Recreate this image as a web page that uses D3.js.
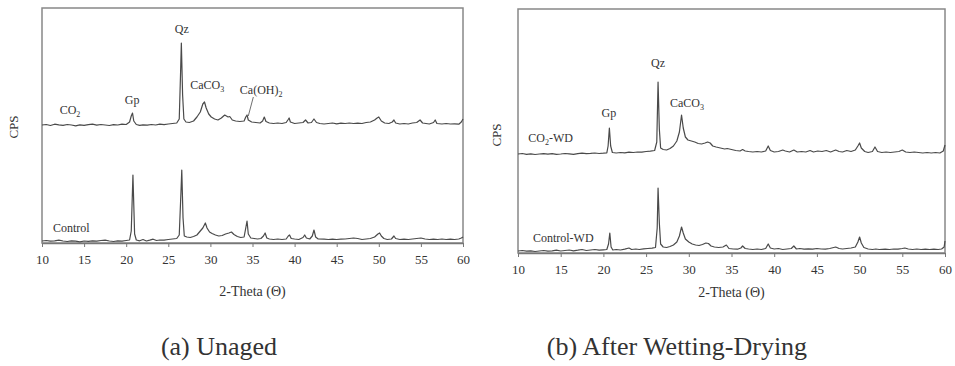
<!DOCTYPE html>
<html>
<head>
<meta charset="utf-8">
<script src="https://cdn.jsdelivr.net/npm/d3@7"></script>
<style>
  body { margin: 0; background: #fff; }
  svg { display: block; font-family: "Liberation Serif", "Times New Roman", Times, serif; }
</style>
</head>
<body>
<svg id="chart" width="955" height="366"></svg>
<script>
// tick labels (2-Theta)
const ticks2Theta = [10, 15, 20, 25, 30, 35, 40, 45, 50, 55, 60]

// (a) Unaged - Control [2theta, CPS]
const controlUnaged = [[10,20],[10.5,25],[11,18],[11.5,22],[12,28],[12.5,20],[13,15],[13.5,22],[14,18],[14.5,12],[15,20],[15.5,16],[16,22],[16.5,18],[17,25],[17.5,28],[18,20],[18.5,15],[19,22],[19.5,18],[20,25],[20.4,30],[20.6,120],[20.8,680],[21.0,90],[21.2,30],[21.6,22],[22,35],[22.4,20],[22.8,28],[23.2,38],[23.6,25],[24,30],[24.5,28],[25,35],[25.5,40],[26,45],[26.3,80],[26.5,500],[26.6,730],[26.75,250],[26.9,70],[27.2,60],[27.6,55],[28,65],[28.4,80],[28.8,120],[29.1,150],[29.4,200],[29.6,150],[29.9,110],[30.2,95],[30.6,80],[31,70],[31.4,75],[31.8,90],[32.2,100],[32.5,110],[32.8,85],[33.2,65],[33.6,55],[34,60],[34.2,150],[34.35,220],[34.5,90],[34.8,50],[35.2,45],[35.6,40],[36,45],[36.3,70],[36.5,100],[36.7,50],[37,40],[37.5,35],[38,40],[38.5,35],[39,40],[39.25,70],[39.4,80],[39.6,45],[40,40],[40.5,35],[41,55],[41.2,80],[41.4,50],[41.8,40],[42.1,70],[42.3,130],[42.5,60],[42.8,40],[43.5,38],[44,35],[44.5,38],[45,35],[45.5,38],[46,40],[46.5,45],[47,50],[47.5,45],[48,35],[48.5,40],[49,45],[49.5,60],[49.9,90],[50.1,100],[50.3,70],[50.6,45],[51,35],[51.5,40],[51.8,70],[52,45],[52.5,35],[53,38],[53.5,35],[54,40],[54.5,45],[55,50],[55.5,40],[56,35],[56.5,38],[57,35],[57.5,40],[58,35],[58.5,38],[59,35],[59.5,40],[59.8,50],[60,60]]

// (a) Unaged - CO2 (counts above its own baseline)
const co2Unaged = [[10,0],[10.5,5],[11,-5],[11.5,8],[12,2],[12.5,-3],[13,5],[13.5,0],[14,-8],[14.5,2],[15,-4],[15.5,3],[16,8],[16.5,-2],[17,5],[17.5,0],[18,-5],[18.5,3],[19,0],[19.5,8],[20,5],[20.4,30],[20.6,90],[20.75,120],[20.9,40],[21.2,5],[21.6,-3],[22,2],[22.5,-2],[23,5],[23.5,0],[24,8],[24.5,3],[25,10],[25.5,15],[26,20],[26.3,60],[26.45,500],[26.55,820],[26.7,300],[26.85,60],[27.1,30],[27.5,25],[28,40],[28.4,80],[28.8,130],[29.1,210],[29.3,230],[29.5,170],[29.8,110],[30.1,80],[30.5,60],[30.9,50],[31.3,70],[31.7,100],[31.9,90],[32.1,80],[32.3,85],[32.6,50],[33,40],[33.5,35],[34,40],[34.2,80],[34.35,100],[34.5,50],[34.9,30],[35.4,25],[35.9,20],[36.2,40],[36.4,80],[36.6,35],[37,20],[37.5,15],[38,20],[38.5,15],[39,25],[39.2,50],[39.35,70],[39.5,30],[40,15],[40.5,20],[41,25],[41.3,50],[41.6,20],[42,25],[42.3,60],[42.6,25],[43,15],[43.5,10],[44,15],[44.5,20],[45,12],[45.5,18],[46,15],[46.5,20],[47,15],[47.5,18],[48,15],[48.5,25],[49,30],[49.5,50],[49.8,70],[50,80],[50.3,40],[50.7,20],[51.2,15],[51.6,30],[51.8,50],[52,20],[52.5,10],[53,15],[53.5,10],[54,20],[54.5,25],[54.9,50],[55.2,20],[55.6,15],[56,10],[56.5,25],[56.7,50],[56.9,15],[57.5,10],[58,15],[58.5,10],[59,12],[59.5,8],[59.8,30],[60,60]]
const co2UnagedOffset = 1180

// (b) After Wetting-Drying - Control-WD
const controlWD = [[10,20],[10.5,25],[11,18],[11.5,22],[12,15],[12.5,20],[13,25],[13.5,18],[14,22],[14.5,28],[15,20],[15.5,25],[16,30],[16.5,22],[17,28],[17.5,35],[18,25],[18.5,30],[19,35],[19.5,28],[20,32],[20.4,35],[20.6,90],[20.75,200],[20.9,60],[21.1,30],[21.5,35],[22,30],[22.5,38],[23,50],[23.3,35],[23.8,40],[24.2,35],[24.7,42],[25.2,45],[25.7,48],[26.1,55],[26.3,250],[26.4,650],[26.55,300],[26.7,90],[27,60],[27.4,55],[27.8,65],[28.2,80],[28.6,110],[28.9,170],[29.15,260],[29.35,200],[29.6,140],[30,110],[30.4,90],[30.8,80],[31.2,75],[31.6,85],[32,100],[32.3,95],[32.6,70],[33,60],[33.5,55],[34,60],[34.4,80],[34.7,45],[35.2,40],[35.7,38],[36.1,50],[36.3,70],[36.6,45],[37,40],[37.5,35],[38,40],[38.5,35],[39,45],[39.3,90],[39.55,50],[40,40],[40.5,45],[41,35],[41.5,40],[42,45],[42.3,70],[42.6,40],[43,45],[43.5,38],[44,42],[44.5,38],[45,45],[45.5,40],[46,38],[46.5,45],[47.2,60],[47.6,45],[48,40],[48.5,45],[49,50],[49.5,60],[49.8,110],[50,160],[50.2,100],[50.5,55],[51,40],[51.5,35],[51.9,40],[52.3,35],[53,38],[53.5,35],[54,40],[54.5,38],[55,45],[55.3,50],[55.7,40],[56.2,35],[56.7,40],[57.2,35],[57.7,38],[58.2,35],[58.7,38],[59.2,35],[59.6,40],[59.9,60],[60,120]]

// (b) After Wetting-Drying - CO2-WD (counts above its own baseline)
const co2WD = [[10,0],[10.5,5],[11,-3],[11.5,2],[12,-5],[12.5,0],[13,4],[13.5,-2],[14,3],[14.5,-4],[15,0],[15.5,5],[16,2],[16.5,-3],[17,4],[17.5,8],[18,3],[18.5,6],[19,10],[19.5,5],[20,8],[20.4,12],[20.55,80],[20.7,260],[20.85,80],[21.05,15],[21.5,10],[22,15],[22.5,12],[23,18],[23.5,15],[24,20],[24.5,18],[25,25],[25.5,28],[26,35],[26.25,120],[26.4,720],[26.55,250],[26.7,60],[27,45],[27.4,40],[27.8,55],[28.2,80],[28.6,130],[28.9,220],[29.15,390],[29.35,260],[29.6,170],[29.9,140],[30.3,130],[30.7,120],[31.1,105],[31.5,100],[31.9,110],[32.2,120],[32.5,110],[32.8,80],[33.2,70],[33.7,60],[34.2,50],[34.5,55],[35,45],[35.5,35],[36,30],[36.3,45],[36.6,30],[37,25],[37.5,20],[38,25],[38.5,20],[39,30],[39.3,80],[39.55,35],[40,20],[40.5,25],[41,40],[41.3,30],[41.8,20],[42.3,40],[42.7,20],[43.2,25],[43.7,20],[44.2,35],[44.6,20],[45.1,30],[45.6,25],[46.1,35],[46.6,20],[47.2,40],[47.6,25],[48,20],[48.5,35],[49,25],[49.5,40],[49.8,80],[50,110],[50.2,60],[50.6,25],[51,15],[51.5,25],[51.8,70],[52.1,25],[52.6,15],[53.1,20],[53.6,15],[54.1,20],[54.6,25],[55,40],[55.4,20],[55.9,15],[56.4,20],[56.9,15],[57.4,10],[57.9,15],[58.4,10],[58.9,15],[59.4,10],[59.8,30],[60,90]]
const co2WDOffset = 990

// peak / series labels: [text, subscript, suffix, 2theta, CPS, anchor]
const labelsUnaged = [
  ['CO', '2', '', 12.1, 1290, 'start'],
  ['Gp', '', '', 20.7, 1390, 'middle'],
  ['Qz', '', '', 26.6, 2100, 'middle'],
  ['CaCO', '3', '', 27.6, 1540, 'start'],
  ['Ca(OH)', '2', '', 33.5, 1490, 'start'],
  ['Control', '', '', 11.3, 110, 'start']
]
const labelsWD = [
  ['CO', '2', '-WD', 11.2, 1110, 'start'],
  ['Gp', '', '', 20.65, 1360, 'middle'],
  ['Qz', '', '', 26.4, 1860, 'middle'],
  ['CaCO', '3', '', 27.8, 1460, 'start'],
  ['Control-WD', '', '', 11.75, 110, 'start']
]

const ink = '#333'
const lineCol = '#4a4a4a'
const serif = '"Liberation Serif", "Times New Roman", Times, serif'
const svg = d3.select('#chart')

function drawPanel(cfg) {
  const x = d3.scaleLinear().domain([10, 60]).range([cfg.left, cfg.right])
  const y = d3.scaleLinear().domain([0, cfg.yMax]).range([cfg.bottom, cfg.top])
  const g = svg.append('g')

  // frame
  g.append('rect')
    .attr('x', cfg.left).attr('y', cfg.top)
    .attr('width', cfg.right - cfg.left).attr('height', cfg.bottom - cfg.top)
    .attr('fill', 'none').attr('stroke', '#888').attr('stroke-width', 1.5)

  // traces
  const line = d3.line().x(d => x(d[0])).y(d => y(d[1]))
  cfg.series.forEach(s => {
    g.append('path')
      .datum(s.data.map(d => [d[0], d[1] + s.offset]))
      .attr('d', line)
      .attr('fill', 'none').attr('stroke', lineCol)
      .attr('stroke-width', 1.2).attr('stroke-linejoin', 'round')
  })

  // x axis
  const ax = g.append('g')
    .attr('transform', `translate(0,${cfg.bottom})`)
    .call(d3.axisBottom(x).tickValues(ticks2Theta).tickSizeInner(4).tickSizeOuter(0).tickPadding(8))
  ax.attr('font-family', null)
  ax.select('.domain').attr('stroke', '#777').attr('stroke-width', 1.5)
  ax.selectAll('.tick line').attr('stroke', '#777')
  ax.selectAll('.tick text').attr('fill', ink)
    .style('font-family', serif).style('font-size', '13px')

  g.append('text')
    .attr('x', (cfg.left + cfg.right) / 2).attr('y', cfg.titleY)
    .attr('text-anchor', 'middle').attr('fill', ink)
    .style('font-family', serif).style('font-size', '14px')
    .text('2-Theta (\u0398)')

  g.append('text')
    .attr('transform', `translate(${cfg.cpsX},${cfg.cpsY}) rotate(-90)`)
    .attr('text-anchor', 'middle').attr('fill', ink)
    .style('font-family', serif).style('font-size', '13px')
    .text('CPS')

  // labels
  cfg.labels.forEach(l => {
    const t = g.append('text')
      .attr('x', x(l[3])).attr('y', y(l[4]))
      .attr('text-anchor', l[5]).attr('fill', ink)
      .style('font-family', serif).style('font-size', '12px')
    t.append('tspan').text(l[0])
    if (l[1]) t.append('tspan').attr('dy', 3).style('font-size', '8px').text(l[1])
    if (l[2]) t.append('tspan').attr('dy', -3).text(l[2])
  })

  if (cfg.leader) {
    g.append('line')
      .attr('x1', x(cfg.leader[0])).attr('y1', y(cfg.leader[1]))
      .attr('x2', x(cfg.leader[2])).attr('y2', y(cfg.leader[3]))
      .attr('stroke', lineCol).attr('stroke-width', 0.8)
  }

  svg.append('text')
    .attr('x', cfg.captionX).attr('y', 355)
    .attr('text-anchor', 'middle').attr('fill', ink)
    .style('font-family', serif).style('font-size', '26px')
    .text(cfg.caption)
}

drawPanel({
  left: 42, right: 463, top: 8, bottom: 243, yMax: 2350,
  series: [{ data: controlUnaged, offset: 0 }, { data: co2Unaged, offset: co2UnagedOffset }],
  labels: labelsUnaged, leader: [35.1, 1460, 34.5, 1270],
  titleY: 296, cpsX: 18, cpsY: 127,
  caption: '(a) Unaged', captionX: 219
})

drawPanel({
  left: 518, right: 945, top: 9, bottom: 253, yMax: 2440,
  series: [{ data: controlWD, offset: 0 }, { data: co2WD, offset: co2WDOffset }],
  labels: labelsWD, leader: null,
  titleY: 297, cpsX: 501, cpsY: 135,
  caption: '(b) After Wetting-Drying', captionX: 677
})
</script>
</body>
</html>
